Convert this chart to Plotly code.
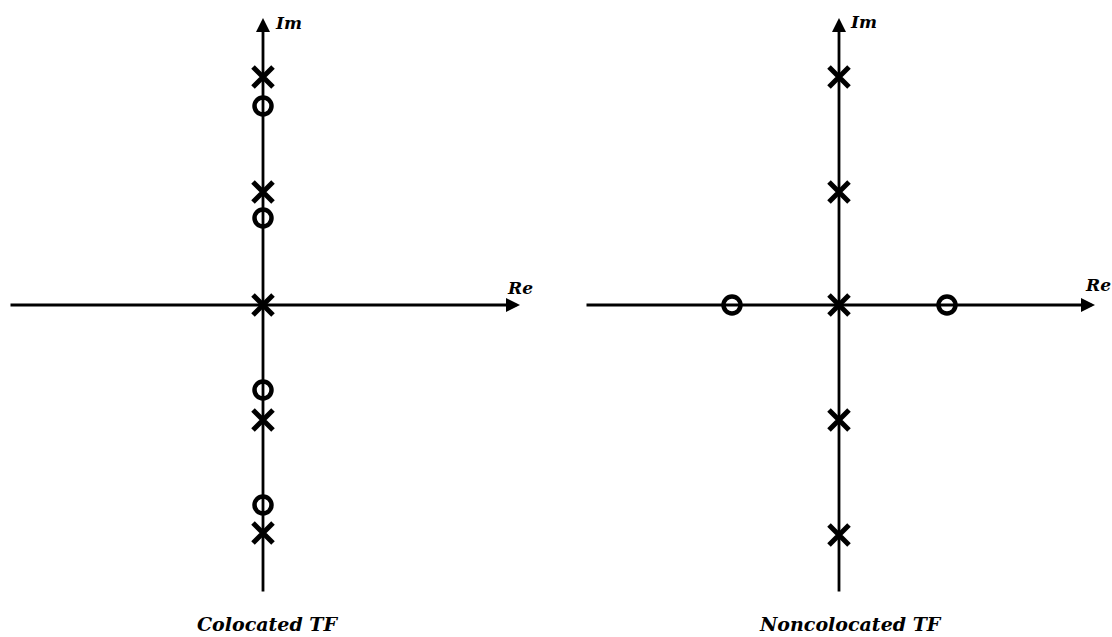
import plotly.graph_objects as go

# Colocated TF (left): poles and zeros on imaginary axis
colo_pole_im = [2.28, 1.13, 0.0, -1.15, -2.28]
colo_zero_im = [1.99, 0.87, -0.85, -2.00]

# Noncolocated TF (right): poles on imaginary axis, zeros on real axis
nonco_pole_im = [2.28, 1.13, 0.0, -1.15, -2.30]
nonco_zero_re = [-1.07, 1.08]

captions = ["Colocated TF", "Noncolocated TF"]
axis_labels = ["Im", "Re"]

FONT = dict(family="DejaVu Serif", color="black")
X_MARK = dict(symbol="x-thin-open", size=20, color="black", line=dict(width=5, color="black"))
O_MARK = dict(symbol="circle-open", size=17, color="black", line=dict(width=4.5, color="black"))

fig = go.Figure()

# left panel
fig.add_trace(go.Scatter(x=[0] * len(colo_pole_im), y=colo_pole_im, mode="markers",
                         marker=X_MARK, xaxis="x", yaxis="y", showlegend=False))
fig.add_trace(go.Scatter(x=[0] * len(colo_zero_im), y=colo_zero_im, mode="markers",
                         marker=O_MARK, xaxis="x", yaxis="y", showlegend=False))
# right panel
fig.add_trace(go.Scatter(x=[0] * len(nonco_pole_im), y=nonco_pole_im, mode="markers",
                         marker=X_MARK, xaxis="x2", yaxis="y", showlegend=False))
fig.add_trace(go.Scatter(x=nonco_zero_re, y=[0] * len(nonco_zero_re), mode="markers",
                         marker=O_MARK, xaxis="x2", yaxis="y", showlegend=False))

annotations = []
for xr, (hx0, hx1) in [("x", (-2.54, 2.57)), ("x2", (-2.54, 2.56))]:
    # vertical (Im) axis arrow
    annotations.append(dict(x=0, y=2.87, ax=0, ay=-2.88, xref=xr, yref="y", axref=xr, ayref="y",
                            showarrow=True, arrowhead=2, arrowsize=1.0, arrowwidth=2.8,
                            arrowcolor="black", text=""))
    # horizontal (Re) axis arrow
    annotations.append(dict(x=hx1, y=0, ax=hx0, ay=0, xref=xr, yref="y", axref=xr, ayref="y",
                            showarrow=True, arrowhead=2, arrowsize=1.0, arrowwidth=2.8,
                            arrowcolor="black", text=""))

# labels
annotations += [
    dict(x=0.10, y=2.82, xref="x", yref="y", text="<b><i>" + axis_labels[0] + "</i></b>",
         showarrow=False, xanchor="left", font=dict(size=17, **FONT)),
    dict(x=0.09, y=2.83, xref="x2", yref="y", text="<b><i>" + axis_labels[0] + "</i></b>",
         showarrow=False, xanchor="left", font=dict(size=17, **FONT)),
    dict(x=2.42, y=0.17, xref="x", yref="y", text="<b><i>" + axis_labels[1] + "</i></b>",
         showarrow=False, xanchor="left", font=dict(size=17, **FONT)),
    dict(x=2.44, y=0.20, xref="x2", yref="y", text="<b><i>" + axis_labels[1] + "</i></b>",
         showarrow=False, xanchor="left", font=dict(size=17, **FONT)),
    dict(x=0.04, y=-3.19, xref="x", yref="y", text="<b><i>" + captions[0] + "</i></b>",
         showarrow=False, xanchor="center", font=dict(size=19, **FONT)),
    dict(x=0.11, y=-3.19, xref="x2", yref="y", text="<b><i>" + captions[1] + "</i></b>",
         showarrow=False, xanchor="center", font=dict(size=19, **FONT)),
]

hidden = dict(visible=False, showgrid=False, zeroline=False, fixedrange=True)
fig.update_layout(
    width=1112, height=637,
    margin=dict(l=0, r=0, t=0, b=0),
    paper_bgcolor="white", plot_bgcolor="white",
    xaxis=dict(domain=[0, 0.5], range=[-2.63, 2.93], **hidden),
    xaxis2=dict(domain=[0.5, 1], range=[-2.83, 2.73], anchor="y", **hidden),
    yaxis=dict(range=[-3.32, 3.05], **hidden),
    annotations=annotations,
    showlegend=False,
)

fig.write_html("out.html", config={"displayModeBar": False},
               post_script="document.body.style.margin='0px';document.body.style.overflow='hidden';")
